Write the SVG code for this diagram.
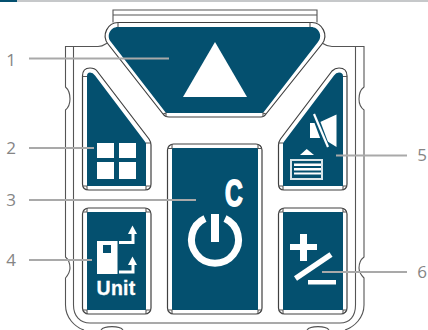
<svg xmlns="http://www.w3.org/2000/svg" width="428" height="330" viewBox="0 0 428 330">
<defs><style>
.o{fill:#fff;stroke:#404040;stroke-width:1.2;stroke-linejoin:round}
.t{fill:none;stroke:#555;stroke-width:1.1}
.f{fill:#04506f}
.w{fill:#fff}
.ws{fill:none;stroke:#fff}
.l{stroke:#a9a9a9;stroke-width:2;fill:none}
.n{font-family:"Open Sans",sans-serif;font-size:17px;fill:#858585;text-anchor:middle}
.b{font-family:"Liberation Sans",Arial,sans-serif;font-weight:700;fill:#fff}
</style></defs>
<rect width="428" height="330" fill="#fff"/>
<rect x="0" y="0" width="428" height="2" fill="#c6c8ca"/>
<rect x="0" y="0" width="17" height="2" fill="#04506f"/>
<g id="frame">
<path class="t" d="M113 22.500V10H317V22.500M113 15H317"/>
<path class="t" d="M107 43C104 45 103 46.500 98 46.500H65.500V87C69 90 70 95 70 99C70 103 69 107 65.500 110V257C69 260 70 264 70 268C70 271 68 275 65.500 278V305C65.500 318 75 327 84 330M73.500 46.500V305C73.500 316 80 323 90 323H340C350 323 355.500 316 355.500 305V46.500M322 43C325 45 327 46.500 332 46.500H364V87C360 90 359 95 359 99C359 103 360 107 364 110V257C360 260 359 264 359 268C359 271 361 275 364 278V305C364 318 354 327 345 330M101 330C104 325.500 120 325.500 123 330M307 330C310 325.500 326 325.500 329 330"/>
</g>
<g id="node-1">
<path class="o" d="M118 22.500H312C322 22.500 329 35 322 44L266 114Q264 117 261 117H169Q165 117 163 114L108 44C101 35 108 22.500 118 22.500Z"/>
<path class="f" d="M118 27H311C319 27 323 36 318 42L263 113H166L111 42C106 36 110 27 118 27Z"/>
<path class="t" d="M118 22.500V27M310 22.500V27M163 114L166 113V117M266 114L263 113V117"/>
<polygon class="w" points="215,42 247,97 183,97"/>
</g>
<g id="node-2">
<path class="o" d="M82.500 76C82.500 70 86 68 90 68C93 68 95.500 69 97 71L149 139Q151 142 151 145V184Q151 190 145 190H89Q82.500 190 82.500 184Z"/>
<path class="f" d="M87 76Q87 72.500 90 72.500Q93 72.500 95 75.500L146 143V186H87Z"/>
<path class="t" d="M82.500 76.500H87M146 143H151M87 186V190M146 186V190M83 186H87M146 186H151"/>
<g class="w"><rect x="97" y="143" width="17" height="15"/><rect x="119" y="143" width="17" height="15"/><rect x="97" y="162" width="17" height="17"/><rect x="119" y="162" width="17" height="17"/></g>
</g>
<g id="node-3">
<rect class="o" x="167.500" y="144" width="94.500" height="170" rx="6"/>
<rect class="f" x="172" y="148" width="86" height="162"/>
<path class="t" d="M168 148.500H172V144M258 144V148.500H262M168 310H172V314M258 314V310H262"/>
<path d="M205 218.500A23.500 23.500 0 1 0 225 218.500" class="ws" stroke-width="7"/>
<rect class="w" x="211" y="214" width="8" height="28"/>
<text class="b" transform="translate(225 206) scale(0.68 1)" font-size="36" stroke="#fff" stroke-width="1.800">C</text>
</g>
<g id="node-4">
<rect class="o" x="82.500" y="208" width="68.500" height="106" rx="6"/>
<rect class="f" x="87" y="212" width="59" height="98"/>
<path class="t" d="M83 212H87V208M146 208V212H151M83 310H87V314M146 314V310H151"/>
<path class="w" fill-rule="evenodd" d="M97 241H117.500V274H97ZM103 245V253H111V245Z"/>
<path class="ws" stroke-width="3" d="M119 242.500H133V232M119 272H133V263"/>
<polygon class="w" points="132.500,225.500 137,234 128,234"/>
<polygon class="w" points="132.500,256.500 137,265 128,265"/>
<text class="b" x="96.500" y="295" font-size="19.500" letter-spacing="0.3" stroke="#fff" stroke-width=".3">Unit</text>
</g>
<g id="node-5">
<path class="o" d="M347 76C347 70 343 68 339 68C336 68 334 69 332 71L280.500 139Q278.500 142 278.500 145V184Q278.500 190 284 190H341Q347 190 347 184Z"/>
<path class="f" d="M343 76Q343 72.500 339 72.500Q336 72.500 334 75.500L283 143V186H343Z"/>
<path class="t" d="M347 76.500H343M283 143H278.500M283 186V190M343 186V190M279 186H283M343 186H347"/>
<polygon class="w" points="310,123 318,123 336.500,114.500 336.500,147 322,138 310,138"/>
<path d="M313.500 112L327.500 149" stroke="#04506f" stroke-width="6"/>
<path d="M314 114L328 147" stroke="#fff" stroke-width="2.200"/>
<polygon class="w" points="306.700,149 314,155 300,155"/>
<path class="w" d="M290 159H323V161H292V178H321V160H323V180H290Z" fill-opacity=".85"/>
<path class="w" d="M294 163.500H321V166H294ZM294 168H321V170.500H294ZM294 172.500H321V174.500H294Z"/>
</g>
<g id="node-6">
<rect class="o" x="278.500" y="208" width="68.500" height="106" rx="6"/>
<rect class="f" x="283" y="212" width="60" height="98"/>
<path class="t" d="M279 212H283V208M343 208V212H347M279 310H283V314M343 314V310H347"/>
<path class="w" d="M290 244H300V234H307V244H317V250H307V261H300V250H290Z"/>
<path class="ws" stroke-width="5.500" d="M295.500 278.500L331 254.500"/>
<rect class="w" x="308" y="280" width="28" height="4.500"/>
</g>
<g id="connectors">
<path class="l" d="M29 58.500H169M29 148H94M29 200H196M29 260H92M336 155.500H407M322 272H407"/>
</g>
<g id="labels">
<text class="n" x="11" y="66">1</text>
<text class="n" x="11" y="154">2</text>
<text class="n" x="11" y="206">3</text>
<text class="n" x="11" y="266">4</text>
<text class="n" x="422" y="161">5</text>
<text class="n" x="422" y="278">6</text>
</g>
</svg>
